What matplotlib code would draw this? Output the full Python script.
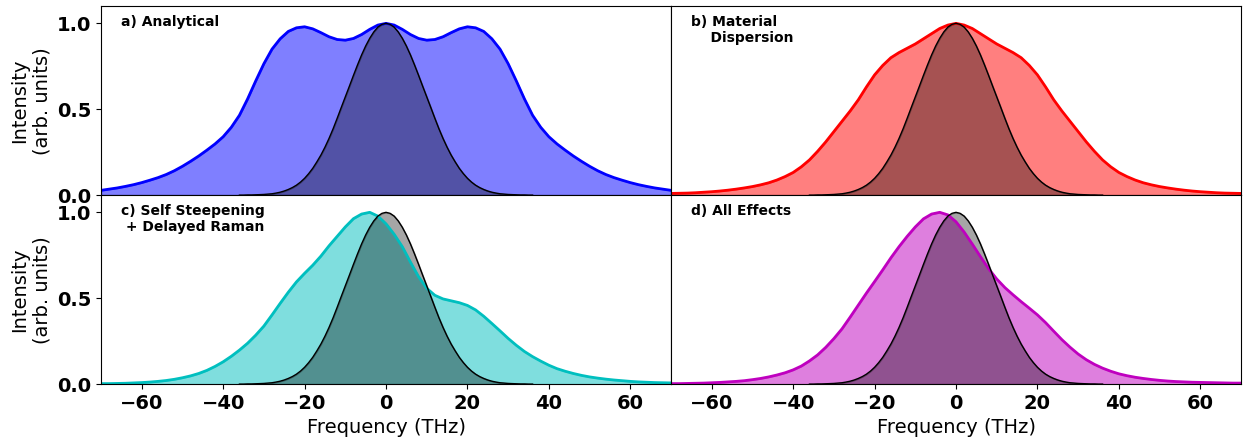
import numpy as np
import matplotlib.pyplot as plt

# frequency grid (THz) for the output spectra, 2 THz spacing
freq = np.arange(-70, 71, 2)

# input pulse spectrum on a finer 1 THz grid (zero outside +-36 THz)
pulse_freq = np.arange(-36, 37, 1)
input_pulse = [0.0, 0.0, 0.001, 0.001, 0.002, 0.003, 0.004, 0.006, 0.008, 0.012, 0.017, 0.024,
               0.033, 0.044, 0.058, 0.076, 0.098, 0.125, 0.156, 0.193, 0.233, 0.279, 0.33,
               0.386, 0.447, 0.51, 0.572, 0.634, 0.697, 0.758, 0.816, 0.868, 0.913, 0.95,
               0.978, 0.994,
               1.0,
               0.994, 0.978, 0.95, 0.913, 0.868, 0.816, 0.758, 0.697, 0.634, 0.572, 0.51,
               0.447, 0.386, 0.33, 0.279, 0.233, 0.193, 0.156, 0.125, 0.098, 0.076, 0.058,
               0.044, 0.033, 0.024, 0.017, 0.012, 0.008, 0.006, 0.004, 0.003, 0.002, 0.001,
               0.001, 0.0, 0.0]

analytical = [0.028, 0.035, 0.042, 0.051, 0.061, 0.073, 0.087, 0.102, 0.12, 0.142, 0.168, 0.197,
              0.228, 0.262, 0.298, 0.34, 0.395, 0.465, 0.56, 0.665, 0.765, 0.85, 0.91, 0.953,
              0.974, 0.98, 0.968, 0.946, 0.922, 0.906, 0.902, 0.912, 0.935, 0.965, 0.99,
              1.0,
              0.99, 0.965, 0.935, 0.912, 0.902, 0.906, 0.922, 0.946, 0.968, 0.98, 0.974, 0.953,
              0.91, 0.85, 0.765, 0.665, 0.56, 0.465, 0.395, 0.34, 0.298, 0.262, 0.228, 0.197,
              0.168, 0.142, 0.12, 0.102, 0.087, 0.073, 0.061, 0.051, 0.042, 0.035, 0.028]

dispersion = [0.01, 0.011, 0.012, 0.014, 0.017, 0.02, 0.024, 0.029, 0.035, 0.042, 0.05, 0.06,
              0.072, 0.088, 0.108, 0.132, 0.165, 0.205, 0.255, 0.31, 0.37, 0.43, 0.49, 0.555,
              0.63, 0.7, 0.755, 0.8, 0.83, 0.855, 0.88, 0.91, 0.94, 0.97, 0.99,
              1.0,
              0.99, 0.97, 0.94, 0.91, 0.88, 0.855, 0.83, 0.8, 0.755, 0.7, 0.63, 0.555,
              0.49, 0.43, 0.37, 0.31, 0.255, 0.205, 0.165, 0.132, 0.108, 0.088, 0.072, 0.06,
              0.05, 0.042, 0.035, 0.029, 0.024, 0.02, 0.017, 0.014, 0.012, 0.011, 0.01]

steep_raman = [0.003, 0.003, 0.004, 0.005, 0.007, 0.009, 0.012, 0.016, 0.021, 0.028, 0.037, 0.048,
               0.062, 0.08, 0.103, 0.13, 0.162, 0.198, 0.238, 0.285, 0.338, 0.403, 0.47, 0.535,
               0.595, 0.645, 0.692, 0.745, 0.805, 0.86, 0.915, 0.963, 0.99, 1.0, 0.978,
               0.933,
               0.872, 0.80, 0.71, 0.625, 0.558, 0.517, 0.496, 0.485, 0.474, 0.458, 0.432, 0.395,
               0.353, 0.31, 0.266, 0.226, 0.19, 0.16, 0.134, 0.11, 0.09, 0.075, 0.062, 0.051,
               0.042, 0.035, 0.029, 0.024, 0.02, 0.016, 0.013, 0.011, 0.009, 0.008, 0.007]

all_effects = [0.003, 0.003, 0.004, 0.005, 0.006, 0.008, 0.01, 0.013, 0.016, 0.02, 0.026, 0.033,
               0.042, 0.053, 0.066, 0.083, 0.105, 0.135, 0.17, 0.214, 0.265, 0.322, 0.39, 0.46,
               0.53, 0.597, 0.665, 0.735, 0.8, 0.86, 0.915, 0.962, 0.99, 1.0, 0.985,
               0.945,
               0.885, 0.815, 0.742, 0.672, 0.612, 0.562, 0.52, 0.48, 0.442, 0.403, 0.358, 0.308,
               0.259, 0.215, 0.175, 0.142, 0.115, 0.093, 0.075, 0.06, 0.049, 0.04, 0.033, 0.027,
               0.022, 0.018, 0.015, 0.013, 0.011, 0.01, 0.009, 0.008, 0.007, 0.006, 0.006]

spectra = [analytical, dispersion, steep_raman, all_effects]
colors = ['b', 'r', 'c', 'm']
titles = ['a) Analytical', 'b) Material\n    Dispersion',
          'c) Self Steepening\n + Delayed Raman', 'd) All Effects']

fig, axes = plt.subplots(2, 2, figsize=(12.44, 4.4), dpi=100, sharex=True, sharey=True)
fig.subplots_adjust(left=0.0812, right=0.9976, top=0.986, bottom=0.127, hspace=0, wspace=0)

for ax, spec, col, title in zip(axes.flat, spectra, colors, titles):
    ax.fill_between(freq, spec, color=col, alpha=0.5)
    ax.fill_between(pulse_freq, input_pulse, color='k', alpha=0.35)
    ax.plot(freq, spec, color=col, lw=2)
    ax.plot(pulse_freq, input_pulse, color='k', lw=1)
    ax.text(0.035, 0.955, title, transform=ax.transAxes, fontsize=10,
            fontweight='bold', va='top', ha='left')

    ax.set_xlim(-70, 70)
    ax.set_ylim(0, 1.1)
    ax.set_xticks([-60, -40, -20, 0, 20, 40, 60])
    ax.set_yticks([0.0, 0.5, 1.0])
    for lbl in ax.get_xticklabels() + ax.get_yticklabels():
        lbl.set_fontsize(14)
        lbl.set_fontweight('bold')

# only the outer edges carry ticks
for ax in axes[0]:
    ax.tick_params(axis='x', bottom=False, labelbottom=False)
for ax in axes[:, 1]:
    ax.tick_params(axis='y', left=False, labelleft=False)

for ax in axes[:, 0]:
    ax.set_ylabel("Intensity\n(arb. units)", fontsize=14)
for ax in axes[1]:
    ax.set_xlabel("Frequency (THz)", fontsize=14)

plt.savefig('out.png', dpi=100)
